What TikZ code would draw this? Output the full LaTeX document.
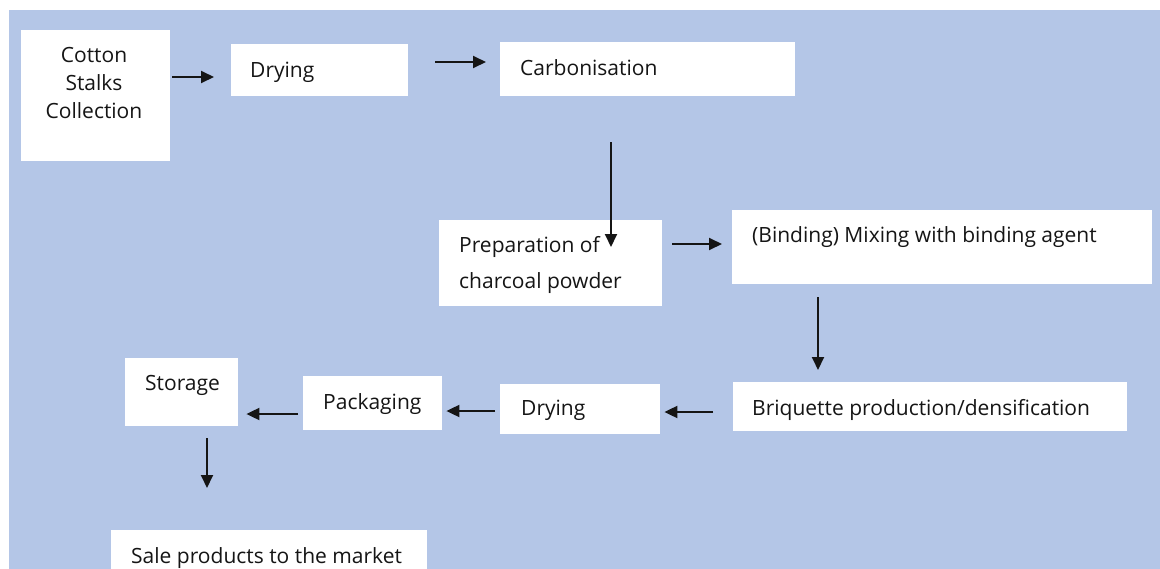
\documentclass[tikz,border=0pt]{standalone}
\usepackage{fontspec}
\setmainfont{Open Sans}
\usetikzlibrary{arrows.meta}
\definecolor{bgblue}{HTML}{B4C6E7}
\definecolor{ink}{HTML}{151515}
\tikzset{
  box/.style={fill=white, draw=none, inner sep=0pt, anchor=north west},
  lbl/.style={inner sep=0pt, anchor=base west, text=ink, font=\fontsize{21}{28}\selectfont},
  arr/.style={line width=1.9pt, draw=ink, -{Triangle[length=13pt,width=12pt]}}
}
\begin{document}
\begin{tikzpicture}[x=1pt,y=-1pt]
\useasboundingbox (0,0) rectangle (1160,568);
\fill[white] (0,0) rectangle (1160,568);
\fill[bgblue] (9,10) rectangle (1165,575);
% boxes
\node[box, minimum width=149pt, minimum height=131pt] (cot) at (21,30) {};
\node[box, minimum width=177pt, minimum height=52pt] (dry1) at (231,44) {};
\node[box, minimum width=295pt, minimum height=54pt] (carb) at (500,42) {};
\node[box, minimum width=223pt, minimum height=86pt] (prep) at (439,220) {};
\node[box, minimum width=420pt, minimum height=74pt] (bind) at (732,210) {};
\node[box, minimum width=394pt, minimum height=49pt] (briq) at (733,382) {};
\node[box, minimum width=160pt, minimum height=50pt] (dry2) at (500,384) {};
\node[box, minimum width=139pt, minimum height=54pt] (pack) at (303,376) {};
\node[box, minimum width=113pt, minimum height=68pt] (stor) at (125,358) {};
\node[box, minimum width=316pt, minimum height=50pt] (sale) at (111,530) {};
% labels
\node[lbl, anchor=base, align=center, font=\fontsize{21}{28}\selectfont] (tcot) at (94,118) {Cotton\\Stalks\\Collection};
\node[lbl] (tdry1) at (250,77) {Drying};
\node[lbl] (tcarb) at (520,75) {Carbonisation};
\node[lbl, align=left, font=\fontsize{21}{36}\selectfont] (tprep) at (459,288) {Preparation of\\charcoal powder};
\node[lbl] (tbind) at (752,242) {(Binding) Mixing with binding agent};
\node[lbl] (tbriq) at (752,415) {Briquette production/densification};
\node[lbl] (tdry2) at (521,415) {Drying};
\node[lbl] (tpack) at (323,409) {Packaging};
\node[lbl] (tstor) at (145,390) {Storage};
\node[lbl] (tsale) at (131,563) {Sale products to the market};
% arrows
\draw[arr] ([shift={(2,47)}]cot.north east) -- ([shift={(-17,33)}]dry1.north west);
\draw[arr] ([shift={(27,18)}]dry1.north east) -- ([shift={(-14,20)}]carb.north west);
\draw[arr] ([shift={(111,46)}]carb.south west) -- ([shift={(172,27)}]prep.north west);
\draw[arr] ([shift={(10,24)}]prep.north east) -- ([shift={(-10,34)}]bind.north west);
\draw[arr] ([shift={(86,13)}]bind.south west) -- ([shift={(85,-12)}]briq.north west);
\draw[arr] ([shift={(-20,30)}]briq.north west) -- ([shift={(4,28)}]dry2.north east);
\draw[arr] ([shift={(-5,27)}]dry2.north west) -- ([shift={(4,35)}]pack.north east);
\draw[arr] ([shift={(-5,38)}]pack.north west) -- ([shift={(8,56)}]stor.north east);
\draw[arr] ([shift={(82,12)}]stor.south west) -- ([shift={(96,-42)}]sale.north west);
\end{tikzpicture}
\end{document}
